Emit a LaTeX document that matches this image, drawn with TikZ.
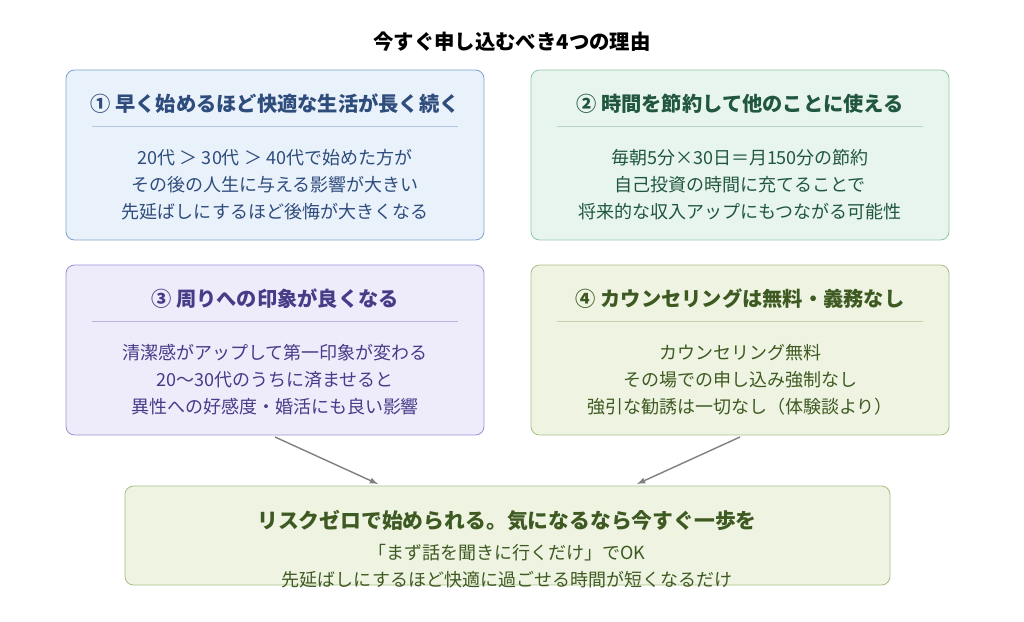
\documentclass[tikz,border=0pt]{standalone}
\usepackage{fontspec}
\setmainfont{Noto Sans CJK JP}
\usetikzlibrary{positioning}
\definecolor{bluefill}{HTML}{E9F1FB}\definecolor{blueline}{HTML}{7FA2D0}\definecolor{bluetext}{HTML}{2E4C7C}
\definecolor{mintfill}{HTML}{E7F5EE}\definecolor{mintline}{HTML}{93C8AB}\definecolor{minttext}{HTML}{21573F}
\definecolor{lavfill}{HTML}{EEEBFB}\definecolor{lavline}{HTML}{9C94D2}\definecolor{lavtext}{HTML}{463C88}
\definecolor{olivefill}{HTML}{EEF4E1}\definecolor{oliveline}{HTML}{ABC088}\definecolor{olivetext}{HTML}{3E5A22}
\tikzset{
  card/.style={rounded corners=6, line width=0.6pt},
  head/.style={font=\bfseries\fontsize{14.4}{16}\selectfont},
  body/.style={font=\fontsize{12.8}{19.2}\selectfont, align=center},
}
\begin{document}
\begin{tikzpicture}[x=0.025cm, y=-0.025cm]
  \useasboundingbox (0,0) rectangle (1024,622);
  \node [font=\bfseries\fontsize{14.5}{16}\selectfont] (title) at (512,42) {今すぐ申し込むべき4つの理由};
  % card one
  \draw [card, fill=bluefill, draw=blueline] (66,70) rectangle (484,240);
  \node [head, text=bluetext] (h1) at (275,104) {① 早く始めるほど快適な生活が長く続く};
  \draw [blueline!60] (92,126) -- (458,126);
  \node [body, text=bluetext] (b1) at (275,185) {20代 ＞ 30代 ＞ 40代で始めた方が\\その後の人生に与える影響が大きい\\先延ばしにするほど後悔が大きくなる};
  % card two
  \draw [card, fill=mintfill, draw=mintline] (531,70) rectangle (949,240);
  \node [head, text=minttext] (h2) at (740,104) {② 時間を節約して他のことに使える};
  \draw [mintline!70] (557,126) -- (923,126);
  \node [body, text=minttext] (b2) at (740,185) {毎朝5分×30日＝月150分の節約\\自己投資の時間に充てることで\\将来的な収入アップにもつながる可能性};
  % card three
  \draw [card, fill=lavfill, draw=lavline] (66,265) rectangle (484,435);
  \node [head, text=lavtext] (h3) at (275,299) {③ 周りへの印象が良くなる};
  \draw [lavline!70] (92,321) -- (458,321);
  \node [body, text=lavtext] (b3) at (275,380) {清潔感がアップして第一印象が変わる\\20〜30代のうちに済ませると\\異性への好感度・婚活にも良い影響};
  % card four
  \draw [card, fill=olivefill, draw=oliveline] (531,265) rectangle (949,435);
  \node [head, text=olivetext] (h4) at (740,299) {④ カウンセリングは無料・義務なし};
  \draw [oliveline!70] (557,321) -- (923,321);
  \node [body, text=olivetext] (b4) at (740,380) {カウンセリング無料\\その場での申し込み強制なし\\強引な勧誘は一切なし（体験談より）};
  % summary
  \draw [card, fill=olivefill, draw=oliveline] (125,486) rectangle (890,585);
  \node [head, text=olivetext, font=\bfseries\fontsize{14.8}{16}\selectfont] (h5) at (507,521) {リスクゼロで始められる。気になるなら今すぐ一歩を};
  \node [body, text=olivetext] (b5) at (507,566) {「まず話を聞きに行くだけ」でOK\\先延ばしにするほど快適に過ごせる時間が短くなるだけ};
  \coordinate (s3) at (275,437); \coordinate (t3) at (378,484);
  \coordinate (s4) at (740,437); \coordinate (t4) at (637,484);
  \draw [gray, line width=1pt, -latex] (s3) -- (t3);
  \draw [gray, line width=1pt, -latex] (s4) -- (t4);
\end{tikzpicture}
\end{document}
